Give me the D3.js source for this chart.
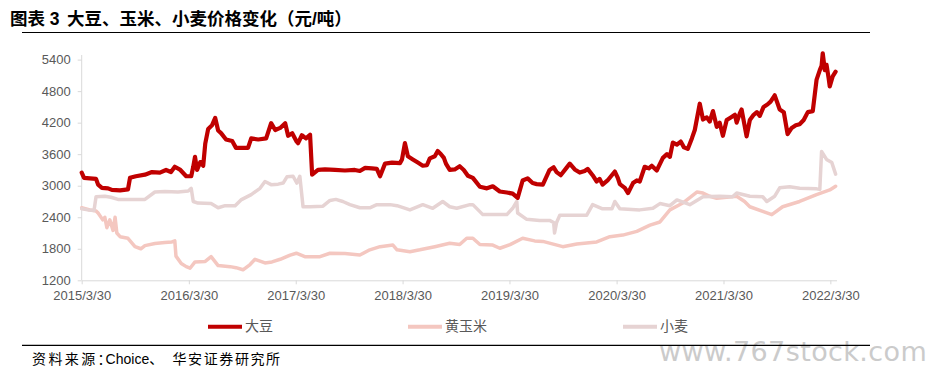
<!DOCTYPE html>
<html><head><meta charset="utf-8">
<script src="https://cdn.jsdelivr.net/npm/d3@7/dist/d3.min.js"></script>
<style>
html,body{margin:0;padding:0;background:#fff;}
svg{display:block;font-family:"Liberation Sans",Arial,"Noto Sans CJK SC",sans-serif;}
</style></head>
<body><svg id="c" width="939" height="382"></svg>
<script>
const seriesNames = ["大豆", "黄玉米", "小麦"];
const seriesColors = ["#C00000", "#F4C7C0", "#E6D3D3"];
const xTickLabels = ["2015/3/30","2016/3/30","2017/3/30","2018/3/30","2019/3/30","2020/3/30","2021/3/30","2022/3/30"];
const yTicks = [1200,1800,2400,3000,3600,4200,4800,5400];

const soybean = [["2015-03-30",3250],["2015-04-07",3150],["2015-04-27",3140],["2015-05-18",3130],["2015-05-25",3020],["2015-06-07",2960],["2015-06-28",2950],["2015-07-11",2920],["2015-08-08",2910],["2015-09-04",2930],["2015-09-11",3150],["2015-10-01",3180],["2015-11-01",3210],["2015-11-25",3260],["2015-12-22",3250],["2016-01-12",3300],["2016-01-29",3260],["2016-02-11",3360],["2016-03-01",3300],["2016-03-21",3180],["2016-04-07",3180],["2016-04-14",3360],["2016-04-20",3550],["2016-04-27",3300],["2016-05-08",3450],["2016-05-18",3380],["2016-05-25",3800],["2016-06-04",4080],["2016-06-17",4150],["2016-06-28",4290],["2016-07-08",4050],["2016-07-18",4000],["2016-08-04",3880],["2016-08-25",3850],["2016-09-07",3720],["2016-10-18",3720],["2016-10-29",3900],["2016-11-22",3880],["2016-12-19",3900],["2017-01-05",4190],["2017-01-19",4060],["2017-02-05",4100],["2017-02-22",4190],["2017-03-04",3950],["2017-03-18",4000],["2017-04-01",3850],["2017-04-07",3810],["2017-04-20",3960],["2017-05-04",3900],["2017-05-18",3970],["2017-05-25",3210],["2017-06-14",3300],["2017-07-08",3310],["2017-08-11",3300],["2017-09-14",3290],["2017-10-18",3300],["2017-11-04",3280],["2017-11-22",3340],["2017-12-15",3330],["2018-01-01",3320],["2018-01-12",3180],["2018-01-29",3420],["2018-02-22",3440],["2018-03-21",3430],["2018-03-28",3500],["2018-04-07",3810],["2018-04-17",3560],["2018-05-04",3500],["2018-05-21",3440],["2018-06-07",3380],["2018-06-21",3390],["2018-07-01",3520],["2018-07-18",3560],["2018-07-28",3660],["2018-08-08",3600],["2018-08-18",3530],["2018-08-25",3420],["2018-09-07",3300],["2018-09-24",3310],["2018-10-11",3370],["2018-10-25",3300],["2018-11-08",3190],["2018-11-25",3150],["2018-12-19",2980],["2019-01-12",2950],["2019-02-01",2990],["2019-02-25",2890],["2019-03-21",2870],["2019-04-10",2850],["2019-04-27",2770],["2019-05-14",3100],["2019-05-31",3140],["2019-06-17",3050],["2019-07-01",3030],["2019-07-22",3020],["2019-08-14",3300],["2019-08-28",3350],["2019-09-07",3260],["2019-09-21",3200],["2019-10-08",3320],["2019-10-22",3420],["2019-11-08",3310],["2019-11-25",3250],["2019-12-12",3280],["2019-12-22",3320],["2020-01-08",3200],["2020-01-22",3080],["2020-02-01",3130],["2020-02-11",3020],["2020-02-28",3100],["2020-03-24",3270],["2020-04-03",3150],["2020-04-10",3030],["2020-04-27",2960],["2020-05-08",2860],["2020-05-25",3050],["2020-06-07",3100],["2020-06-17",3080],["2020-07-04",3360],["2020-07-18",3330],["2020-07-28",3380],["2020-08-14",3290],["2020-09-04",3530],["2020-09-18",3600],["2020-09-28",3550],["2020-10-08",3820],["2020-10-22",3780],["2020-11-04",3840],["2020-11-15",3730],["2020-11-28",3700],["2020-12-12",3900],["2020-12-22",4060],["2021-01-08",4560],["2021-01-19",4260],["2021-02-01",4300],["2021-02-11",4220],["2021-02-22",4420],["2021-03-07",4120],["2021-03-17",4200],["2021-03-28",3950],["2021-04-10",4250],["2021-04-24",4300],["2021-05-08",4350],["2021-05-14",4200],["2021-05-25",4380],["2021-05-31",4450],["2021-06-17",3940],["2021-06-28",4250],["2021-07-11",4350],["2021-07-22",4400],["2021-08-01",4330],["2021-08-14",4500],["2021-08-28",4550],["2021-09-07",4600],["2021-09-21",4720],["2021-10-08",4450],["2021-10-22",4400],["2021-11-04",3980],["2021-11-18",4100],["2021-12-02",4150],["2021-12-15",4170],["2021-12-29",4250],["2022-01-12",4400],["2022-01-29",4420],["2022-02-11",5020],["2022-02-22",5200],["2022-02-28",5280],["2022-03-04",5520],["2022-03-11",5200],["2022-03-17",5300],["2022-03-24",5050],["2022-03-28",4890],["2022-04-07",5080],["2022-04-17",5170]];

const corn = [["2015-03-30",2580],["2015-04-27",2540],["2015-05-18",2520],["2015-05-25",2480],["2015-06-10",2350],["2015-06-17",2400],["2015-06-24",2200],["2015-07-04",2350],["2015-07-15",2150],["2015-07-22",2400],["2015-07-28",2100],["2015-08-08",2030],["2015-09-04",2000],["2015-09-28",1840],["2015-10-18",1800],["2015-11-01",1860],["2015-12-05",1900],["2016-01-08",1920],["2016-02-01",1930],["2016-02-11",1950],["2016-02-15",1660],["2016-03-04",1520],["2016-03-21",1460],["2016-04-03",1430],["2016-04-20",1550],["2016-05-25",1560],["2016-06-14",1650],["2016-07-08",1480],["2016-08-18",1460],["2016-09-07",1440],["2016-10-01",1400],["2016-10-25",1500],["2016-11-11",1600],["2016-12-15",1530],["2017-01-08",1550],["2017-02-05",1600],["2017-03-11",1680],["2017-04-01",1715],["2017-04-30",1650],["2017-06-21",1650],["2017-07-25",1715],["2017-09-14",1710],["2017-11-04",1680],["2017-12-08",1780],["2018-01-12",1840],["2018-02-25",1870],["2018-03-11",1780],["2018-04-24",1745],["2018-05-28",1780],["2018-07-18",1840],["2018-09-07",1905],["2018-10-11",1880],["2018-11-04",2000],["2018-11-25",2000],["2018-12-19",1880],["2019-02-01",1870],["2019-02-25",1810],["2019-04-01",1880],["2019-05-14",2000],["2019-06-24",1950],["2019-07-22",1940],["2019-09-28",1840],["2019-11-15",1890],["2020-01-22",1930],["2020-03-07",2030],["2020-04-20",2060],["2020-06-07",2130],["2020-07-22",2250],["2020-08-25",2310],["2020-09-28",2540],["2020-11-11",2670],["2020-12-29",2880],["2021-01-19",2860],["2021-02-11",2800],["2021-03-07",2760],["2021-05-14",2800],["2021-06-10",2700],["2021-06-28",2600],["2021-08-11",2510],["2021-09-11",2450],["2021-10-18",2600],["2021-12-15",2700],["2022-02-11",2830],["2022-03-28",2920],["2022-04-17",2990]];

const wheat = [["2015-03-30",2560],["2015-04-20",2540],["2015-05-11",2530],["2015-05-18",2790],["2015-06-17",2800],["2015-07-08",2780],["2015-08-01",2740],["2015-09-11",2740],["2015-11-01",2740],["2015-12-05",2880],["2016-01-08",2890],["2016-02-22",2880],["2016-03-28",2900],["2016-04-07",2950],["2016-04-14",2700],["2016-04-30",2670],["2016-06-14",2660],["2016-07-08",2580],["2016-08-01",2620],["2016-09-04",2620],["2016-09-24",2730],["2016-10-29",2830],["2016-11-28",2950],["2016-12-15",3080],["2017-01-05",3020],["2017-01-29",3030],["2017-02-15",3050],["2017-02-28",3170],["2017-03-21",3180],["2017-04-03",3050],["2017-04-13",3180],["2017-04-24",2600],["2017-05-18",2600],["2017-07-01",2610],["2017-07-25",2720],["2017-08-14",2740],["2017-09-07",2700],["2017-10-01",2640],["2017-11-04",2580],["2017-12-08",2580],["2018-01-01",2640],["2018-02-15",2640],["2018-03-11",2620],["2018-04-24",2540],["2018-06-07",2640],["2018-07-11",2570],["2018-08-14",2700],["2018-09-07",2600],["2018-10-01",2570],["2018-11-15",2640],["2018-11-25",2640],["2018-12-29",2450],["2019-02-25",2450],["2019-03-21",2450],["2019-04-10",2570],["2019-04-24",2700],["2019-04-27",2480],["2019-05-28",2360],["2019-07-11",2340],["2019-08-14",2340],["2019-08-28",2300],["2019-08-31",2100],["2019-09-07",2300],["2019-09-18",2440],["2019-11-08",2440],["2019-12-19",2440],["2020-01-08",2640],["2020-02-11",2560],["2020-03-14",2560],["2020-03-24",2700],["2020-04-10",2560],["2020-06-17",2540],["2020-08-01",2570],["2020-08-25",2660],["2020-09-28",2620],["2020-10-22",2730],["2020-12-05",2640],["2021-01-19",2790],["2021-03-17",2800],["2021-04-30",2790],["2021-05-14",2860],["2021-06-28",2800],["2021-08-11",2790],["2021-08-25",2700],["2021-09-21",2800],["2021-10-08",2960],["2021-11-11",2980],["2021-12-15",2950],["2022-02-11",2940],["2022-02-22",2930],["2022-02-28",3650],["2022-03-17",3500],["2022-04-04",3440],["2022-04-17",3220]];

const parse = d3.timeParse("%Y-%m-%d");
const parseTick = d3.timeParse("%Y/%m/%d");
const svg = d3.select("#c");

const x = d3.scaleTime().domain([parse("2015-03-30"), parse("2022-04-20")]).range([81.7, 836.5]);
const y = d3.scaleLinear().domain([1200, 5400]).range([280.3, 59.6]);

// Title
svg.append("text").attr("x", 10).attr("y", 25).attr("font-size", 17.5).attr("font-weight", "bold")
  .attr("fill", "#000").text("图表 3");
svg.append("text").attr("x", 67).attr("y", 25).attr("font-size", 17.5).attr("font-weight", "bold")
  .attr("fill", "#000").text("大豆、玉米、小麦价格变化（元/吨）");
svg.append("line").attr("x1", 22).attr("x2", 870).attr("y1", 32.5).attr("y2", 32.5)
  .attr("stroke", "#000").attr("stroke-width", 1.2);

// Y axis
const yAxis = d3.axisLeft(y).tickValues(yTicks).tickFormat(d3.format("d")).tickSize(4).tickPadding(7).tickSizeOuter(0);
const gy = svg.append("g").attr("transform", "translate(81.7,0)").call(yAxis);
gy.select(".domain").remove();
gy.append("line").attr("x1", 0).attr("x2", 0).attr("y1", 55).attr("y2", 280.3).attr("stroke", "#d9d9d9");
gy.selectAll(".tick line").attr("stroke", "#d9d9d9");
gy.selectAll(".tick text").attr("fill", "#595959").attr("font-size", 13)
  .attr("font-family", '"Liberation Sans", Arial, sans-serif');

// X axis
const xTickDates = xTickLabels.map(s => parseTick(s));
const xAxis = d3.axisBottom(x).tickValues(xTickDates).tickFormat((d, i) => xTickLabels[i])
  .tickSize(4).tickPadding(6.5).tickSizeOuter(0);
const gx = svg.append("g").attr("transform", "translate(0,280.3)").call(xAxis);
gx.select(".domain").attr("stroke", "#d9d9d9");
gx.selectAll(".tick line").attr("stroke", "#d9d9d9");
gx.selectAll(".tick text").attr("fill", "#595959").attr("font-size", 13)
  .attr("font-family", '"Liberation Sans", Arial, sans-serif');

// Lines
const line = d3.line().x(d => x(parse(d[0]))).y(d => y(d[1])).curve(d3.curveLinear);
const allSeries = [soybean, corn, wheat];
const widths = [4.2, 3.5, 3.5];
[1, 2, 0].forEach(i => {
  svg.append("path").datum(allSeries[i]).attr("d", line).attr("fill", "none")
    .attr("stroke", seriesColors[i]).attr("stroke-width", widths[i])
    .attr("stroke-linejoin", "round").attr("stroke-linecap", "round");
});

// Legend
const legendX = [208, 408, 623];
seriesNames.forEach((n, i) => {
  svg.append("line").attr("x1", legendX[i]).attr("x2", legendX[i] + 34)
    .attr("y1", 326.7).attr("y2", 326.7).attr("stroke", seriesColors[i]).attr("stroke-width", 4);
  svg.append("text").attr("x", legendX[i] + 37).attr("y", 331).attr("font-size", 14)
    .attr("fill", "#595959").attr("font-family", '"Noto Sans CJK SC", sans-serif').text(n);
});

// Watermark
svg.append("text").attr("x", 659).attr("y", 361).attr("font-size", 27).attr("letter-spacing", 0.4)
  .attr("fill", "#cbcbcb").attr("font-family", '"DejaVu Sans", sans-serif').text("www.767stock.com");

// Bottom rule and source
svg.append("line").attr("x1", 22).attr("x2", 870).attr("y1", 345.3).attr("y2", 345.3)
  .attr("stroke", "#000").attr("stroke-width", 1.2);
const src = svg.append("text").attr("y", 363.5).attr("font-size", 14).attr("fill", "#000");
src.append("tspan").attr("x", 32).attr("letter-spacing", 2.4).attr("font-family", '"Noto Sans CJK SC", sans-serif').text("资料来源");
src.append("tspan").attr("letter-spacing", -6).attr("font-family", '"Noto Sans CJK SC", sans-serif').text("：");
src.append("tspan").attr("font-family", '"Liberation Sans", Arial, sans-serif').text("Choice");
src.append("tspan").attr("font-family", '"Noto Sans CJK SC", sans-serif').text("、");
src.append("tspan").attr("x", 172.5).attr("letter-spacing", 1.6).attr("font-family", '"Noto Sans CJK SC", sans-serif').text("华安证券研究所");
</script>
</body></html>
